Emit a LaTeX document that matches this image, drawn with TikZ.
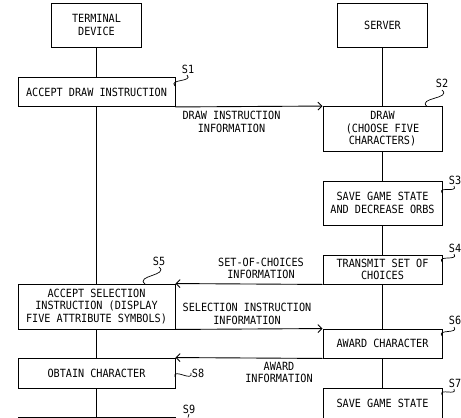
\documentclass[tikz,border=0pt]{standalone}
\usepackage{fontspec}
\setmainfont{DejaVu Sans Mono}[FakeStretch=0.9]
\usetikzlibrary{arrows.meta,calc}
\newcommand\squig[2]{\draw[line width=0.7pt] (#1) .. controls ($(#1)!0.6!90:(#2)$) and ($(#2)!0.6!90:(#1)$) .. (#2);}
\begin{document}
\begin{tikzpicture}[x=1pt,y=-1pt, line width=0.9pt,
  txt/.style={font=\fontsize{11.3}{12.5}\selectfont},
  box/.style={txt, draw, rectangle, inner sep=0pt, align=center},
  tbox/.style={box, minimum width=157pt},
  sbox/.style={box, minimum width=119pt},
  lbl/.style={txt, align=center, inner sep=0pt},
  msg/.style={-{Straight Barb[length=4pt,width=8pt]}},
]
\useasboundingbox (0,0) rectangle (461,418);
\clip (0,0) rectangle (461,418);
\fill[white] (0,0) rectangle (461,418);

% boxes
\node[box, minimum width=90pt, minimum height=44pt] (term) at (96.5,25) {TERMINAL\\DEVICE};
\node[box, minimum width=90pt, minimum height=44pt] (serv) at (382.5,25) {SERVER};
\node[tbox, minimum height=29pt] (s1) at (96.5,92) {ACCEPT DRAW INSTRUCTION};
\node[sbox, minimum height=45pt] (s2) at (382.5,129) {DRAW\\(CHOOSE FIVE\\CHARACTERS)};
\node[sbox, minimum height=44pt] (s3) at (382.5,203) {SAVE GAME STATE\\AND DECREASE ORBS};
\node[sbox, minimum height=29pt] (s4) at (382.5,269.5) {TRANSMIT SET OF\\CHOICES};
\node[tbox, minimum height=45pt] (s5) at (96.5,306.5) {ACCEPT SELECTION\\INSTRUCTION (DISPLAY\\FIVE ATTRIBUTE SYMBOLS)};
\node[sbox, minimum height=29pt] (s6) at (382.5,343.5) {AWARD CHARACTER};
\node[tbox, minimum height=30pt] (s8) at (96.5,373) {OBTAIN CHARACTER};
\node[sbox, minimum height=34pt] (s7) at (382.5,405) {\raisebox{3pt}{SAVE GAME STATE}};
\node[tbox, minimum height=30pt] (s9) at (96.5,432) {};

% lifelines
\draw (term) -- (s1);
\draw (s1) -- (s5);
\draw (s5) -- (s8);
\draw (s8) -- (s9);
\draw (serv) -- (s2);
\draw (s2) -- (s3);
\draw (s3) -- (s4);
\draw (s4) -- (s6);
\draw (s6) -- (s7);

% messages
\draw[msg] (s1.south east) -- (s2.north west);
\draw[msg] (s4.south west) -- (s5.north east);
\draw[msg] (s5.south east) -- (s6.north west);
\draw[msg] (s6.south west) -- (s8.north east);

\node[lbl] (m1) at (231.5,122) {DRAW INSTRUCTION\\INFORMATION};
\node[lbl] (m2) at (261,268.5) {SET-OF-CHOICES\\INFORMATION};
\node[lbl] (m3) at (247,314) {SELECTION INSTRUCTION\\INFORMATION};
\node[lbl] (m4) at (279,372.5) {AWARD\\INFORMATION};

% step labels
\node[lbl] (l1) at (188,69) {S1};
\node[lbl] (l2) at (442,83) {S2};
\node[lbl] (l3) at (455,180) {S3};
\node[lbl] (l4) at (455,248) {S4};
\node[lbl] (l5) at (159,261) {S5};
\node[lbl] (l6) at (455,320) {S6};
\node[lbl] (l7) at (455,383) {S7};
\node[lbl] (l8) at (198,373) {S8};
\node[lbl] (l9) at (189,409) {S9};

\squig{175,86}{187,75}
\squig{427,106.5}{442,90}
\squig{442,193}{454,186}
\squig{442,262}{454,254}
\squig{145,284}{159,267}
\squig{442,336}{454,327}
\squig{442,395}{454,389}
\squig{175,377}{191,373}
\draw[line width=0.7pt] (188,417.5) -- (189,414);
\end{tikzpicture}
\end{document}
